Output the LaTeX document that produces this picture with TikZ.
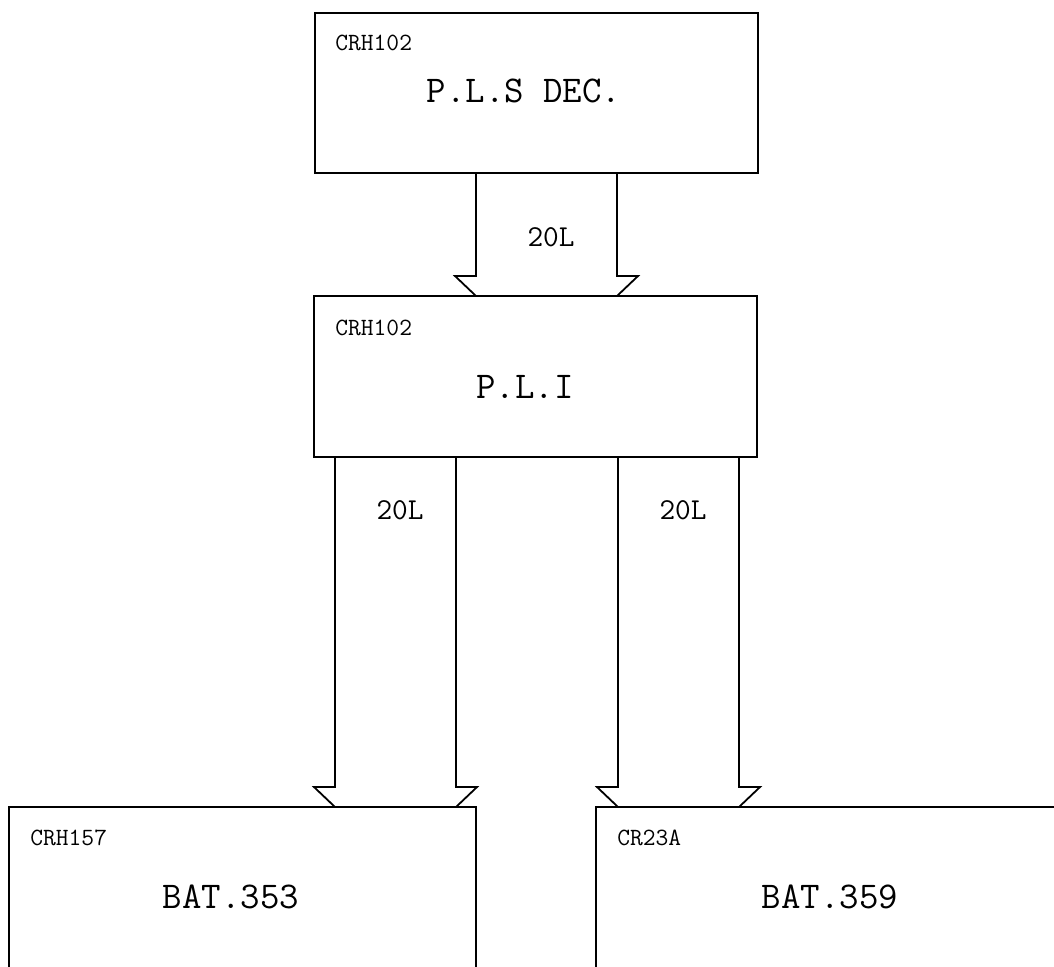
\documentclass[tikz,border=0pt]{standalone}
\usepackage{fontspec}
\usetikzlibrary{calc}

\tikzset{
  unitbox/.style={draw,line width=0.9pt,inner sep=0pt,outer sep=0pt},
  busline/.style={line width=0.9pt,line join=miter},
  boxid/.style={anchor=west,inner sep=0pt,font=\ttfamily\fontsize{12.4}{14}\selectfont},
  boxname/.style={inner sep=0pt,font=\ttfamily\fontsize{18.9}{21}\selectfont},
  buslabel/.style={inner sep=0pt,font=\ttfamily\fontsize{15.2}{17}\selectfont}
}

\begin{document}
\begin{tikzpicture}[x=0.5pt,y=-0.5pt]
\useasboundingbox (0,0) rectangle (1054,966);
\clip (0,0) rectangle (1054,966);

% boxes (the lower two run off the sheet)
\node[unitbox,minimum width=221.5pt,minimum height=80pt] (plsdec) at (536.5,93) {};
\node[unitbox,minimum width=221.5pt,minimum height=80.5pt] (pli) at (535.5,376.5) {};
\node[unitbox,minimum width=233.5pt,minimum height=125pt] (batl) at (242.5,932) {};
\node[unitbox,minimum width=254pt,minimum height=125pt] (batr) at (850,932) {};

% box texts
\node[boxid] (plsdecid) at (335,43) {CRH102};
\node[boxname] (plsdecname) at (524,91) {P.L.S DEC.};
\node[boxid] (pliid) at (335,328) {CRH102};
\node[boxname] (pliname) at (525,387) {P.L.I};
\node[boxid] (batlid) at (30,838) {CRH157};
\node[boxname] (batlname) at (231,897) {BAT.353};
\node[boxid] (batrid) at (617,838) {CR23A};
\node[boxname] (batrname) at (830,897) {BAT.359};

% bus arrows: two shafts, head cut by the target box
\foreach \src/\dst/\xl/\xr in {plsdec/pli/476/617, pli/batl/335/456, pli/batr/618/739}{
  \coordinate (shl) at (\xl,0);
  \coordinate (shr) at (\xr,0);
  \draw[busline] (\src.south -| shl) -- ($(\dst.north -| shl)+(0,-20)$) -- ++(-21,0) -- (\dst.north -| shl);
  \draw[busline] (\src.south -| shr) -- ($(\dst.north -| shr)+(0,-20)$) -- ++(21,0) -- (\dst.north -| shr);
}
\node[buslabel] (bustop) at (551,237) {20L};
\node[buslabel] (busleft) at (400,510) {20L};
\node[buslabel] (busright) at (683,510) {20L};
\end{tikzpicture}
\end{document}
